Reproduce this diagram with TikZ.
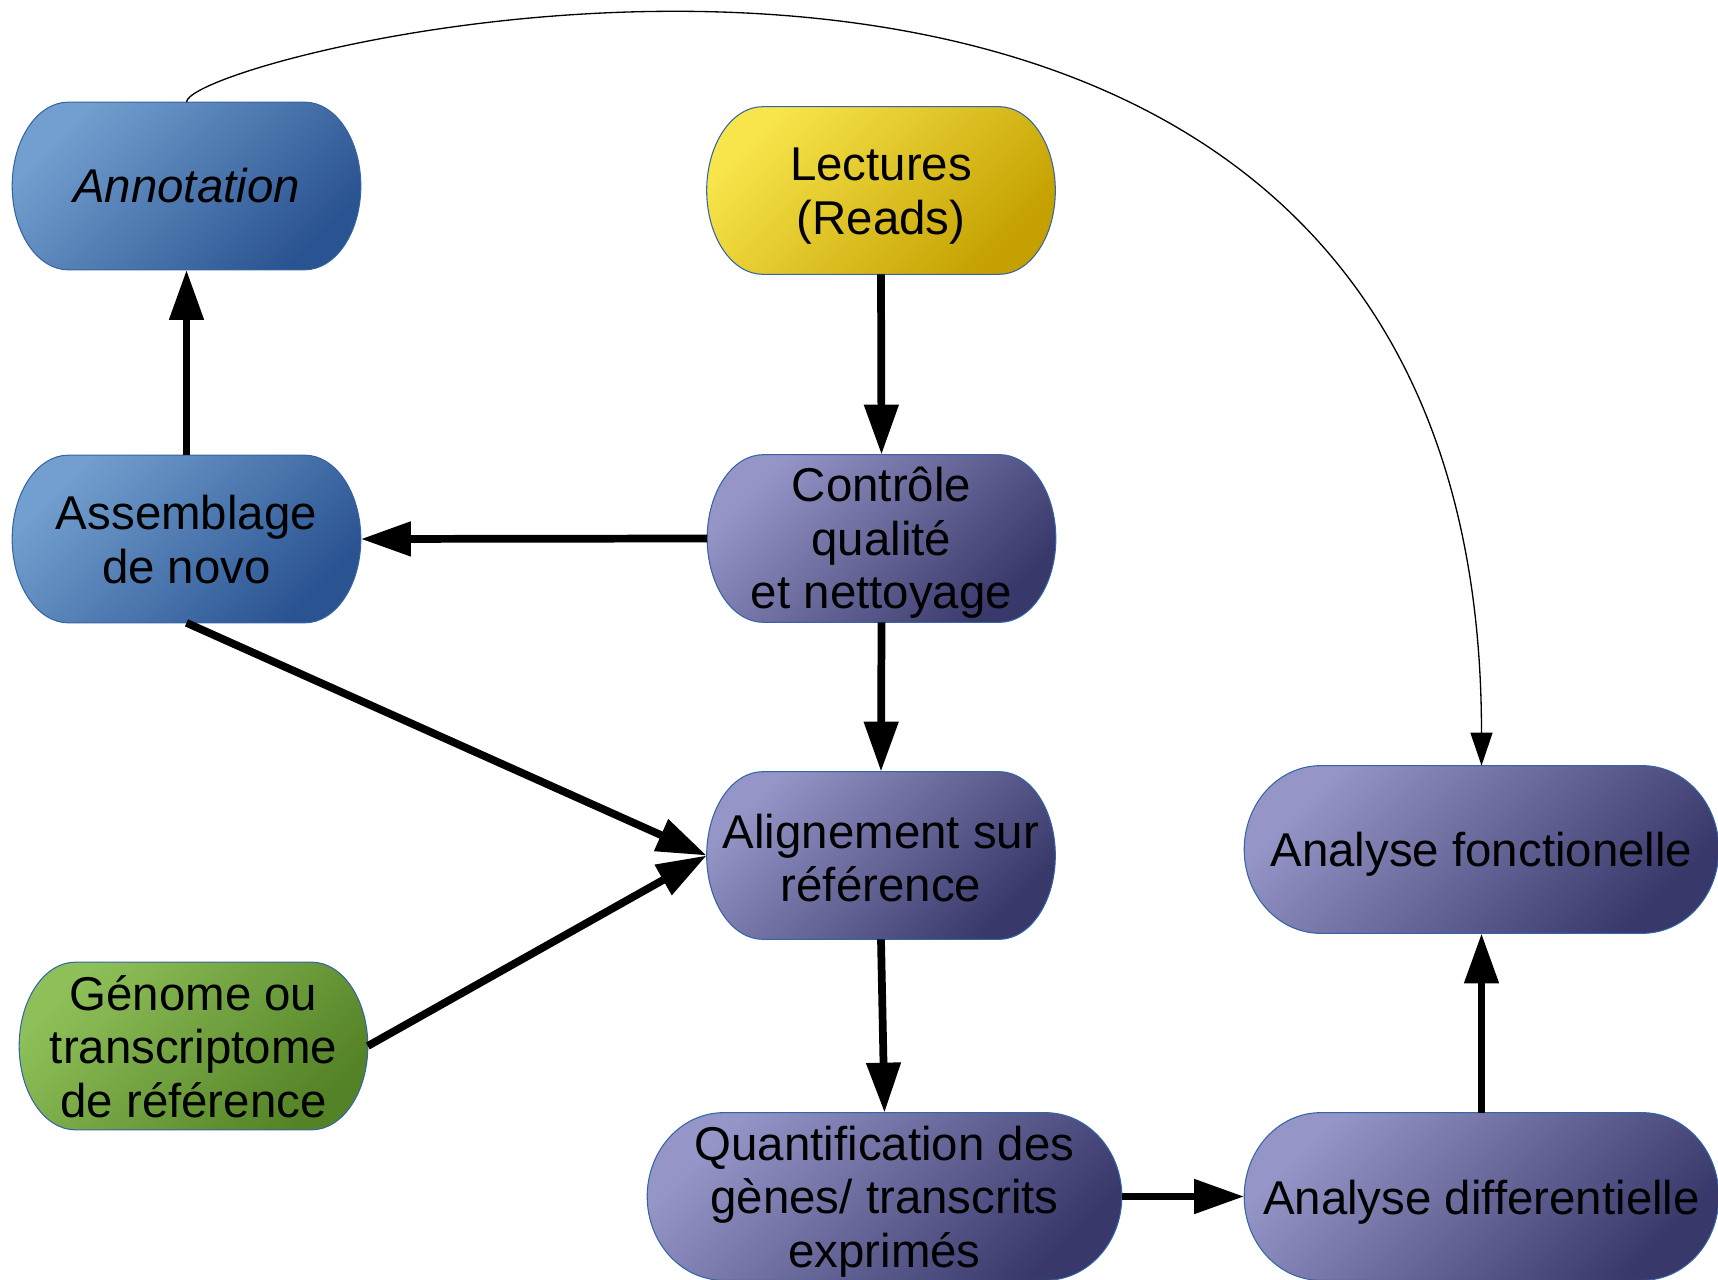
\documentclass[tikz,border=0pt]{standalone}
\usepackage{fontspec}
\setmainfont{Liberation Sans}
\usetikzlibrary{arrows.meta,calc,backgrounds}

\definecolor{blueA}{HTML}{729FCF}
\definecolor{blueB}{HTML}{2A5391}
\definecolor{yelA}{HTML}{F8E54B}
\definecolor{yelB}{HTML}{C4A000}
\definecolor{purA}{HTML}{9595C8}
\definecolor{purB}{HTML}{38386A}
\definecolor{greA}{HTML}{8EC059}
\definecolor{greB}{HTML}{548226}
\definecolor{edge}{HTML}{3465A4}

\tikzset{
  box/.style={minimum height=3.34cm, inner sep=0pt},
  narrow/.style={minimum width=6.96cm},
  wide/.style={minimum width=9.48cm},
  txt/.style={align=center, inner sep=0pt, anchor=center,
    font=\fontsize{27}{30.5}\selectfont},
  % caption={drop in px}{text}: text centred on the step, lowered a little
  caption/.style 2 args={label={[txt, yshift=-#1*0.02cm]center:{#2}}},
  flow/.style={line width=4.4pt, -{Triangle[length=1cm,width=0.66cm]}},
  link/.style={line width=0.75pt, -{Triangle[length=0.66cm,width=0.44cm]}},
  skin/.style={draw=edge, line width=0.6pt},
  bluefill/.style={skin, top color=blueA, bottom color=blueB, shading angle=45},
  yelfill/.style={skin, top color=yelA, bottom color=yelB, shading angle=45},
  purfill/.style={skin, top color=purA, bottom color=purB, shading angle=45},
  grefill/.style={skin, top color=greA, bottom color=greB, shading angle=45},
}

% terminator outline behind a named node: straight top/bottom, half-ellipse ends
\newcommand\termfill[2]{%
  \path[#2] let \p1=(#1.north west), \p2=(#1.south east),
      \n1={0.161*(\x2-\x1)}, \n2={0.5*(\y1-\y2)} in
    (\x1+\n1,\y1) -- (\x2-\n1,\y1)
    arc[start angle=90, end angle=-90, x radius=\n1, y radius=\n2]
    -- (\x1+\n1,\y2)
    arc[start angle=270, end angle=90, x radius=\n1, y radius=\n2] -- cycle;}

\begin{document}
\begin{tikzpicture}[x=0.02cm, y=-0.02cm]
\useasboundingbox (0,0) rectangle (1718,1280);

% steps
\node[box, narrow, caption={0}{\itshape Annotation}] (annot) at (186.5,186) {};
\node[box, narrow, caption={5.5}{Lectures\\(Reads)}] (lect) at (881,190.5) {};
\node[box, narrow, caption={4.5}{Contrôle\\qualité\\et nettoyage}] (ctrl) at (881.5,538.5) {};
\node[box, narrow, caption={0.5}{Assemblage\\de novo}] (assem) at (186.5,539) {};
\node[box, narrow, caption={2.5}{Alignement sur\\référence}] (align) at (881,855.5) {};
\node[box, narrow, caption={0.5}{Génome ou\\transcriptome\\de référence}] (genome) at (193.5,1046) {};
\node[box, wide, caption={5}{Quantification des\\gènes/ transcrits\\exprimés}] (quant) at (884.5,1196.5) {};
\node[box, wide, caption={5.5}{Analyse differentielle}] (diff) at (1481.5,1196.5) {};
\node[box, wide, caption={4.5}{Analyse fonctionelle}] (fonct) at (1481.5,849.5) {};

\begin{pgfonlayer}{background}
  \termfill{annot}{bluefill}
  \termfill{assem}{bluefill}
  \termfill{lect}{yelfill}
  \termfill{ctrl}{purfill}
  \termfill{align}{purfill}
  \termfill{quant}{purfill}
  \termfill{diff}{purfill}
  \termfill{fonct}{purfill}
  \termfill{genome}{grefill}
\end{pgfonlayer}

% connectors
\draw[flow] (assem.north) -- (annot.south);
\draw[flow] (lect.south) -- (ctrl.north);
\draw[flow] (ctrl.west) -- (assem.east);
\draw[flow] (ctrl.south) -- (align.north);
\draw[flow] (assem.south) -- (align.west);
\draw[flow] (genome.east) -- (align.west);
\draw[flow] (align.south) -- (quant.north);
\draw[flow] (quant.east) -- (diff.west);
\draw[flow] (diff.north) -- (fonct.south);
\draw[link] (annot.north) .. controls +(0,-52) and +(0,-1040) .. (fonct.north);
\end{tikzpicture}
\end{document}
